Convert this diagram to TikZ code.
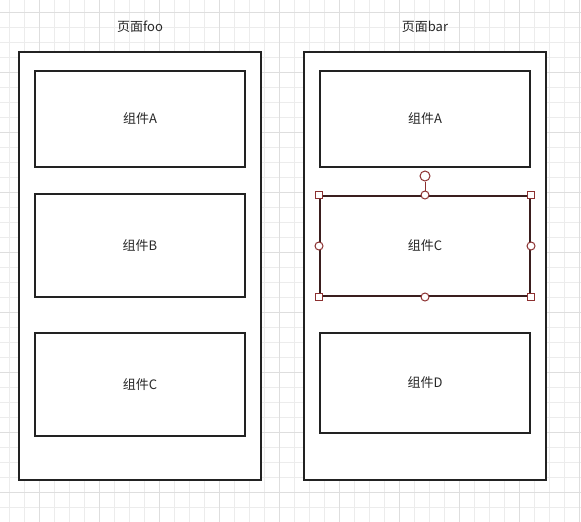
\documentclass[tikz,border=0pt]{standalone}
\usepackage{fontspec}
\setmainfont{Noto Sans CJK SC}
\usepackage{tikz}
\usetikzlibrary{shapes.geometric, arrows}
\definecolor{gridminor}{RGB}{236,236,236}
\definecolor{gridmajor}{RGB}{222,222,222}
\definecolor{linegray}{RGB}{34,34,34}
\definecolor{textgray}{RGB}{40,40,40}
\definecolor{selred}{RGB}{140,48,48}
\definecolor{selline}{RGB}{58,30,30}
\tikzstyle{page} = [rectangle, draw=linegray, line width=2pt, fill=white, minimum width=242pt, minimum height=428pt, inner sep=0pt]
\tikzstyle{comp} = [rectangle, draw=linegray, line width=2pt, fill=white, minimum width=210pt, inner sep=0pt, text=textgray, font=\fontsize{13}{15}\selectfont]
\tikzstyle{title} = [text=textgray, font=\fontsize{13}{15}\selectfont]
\tikzstyle{grip} = [rectangle, draw=selred, fill=white, line width=1pt, minimum size=7pt, inner sep=0pt]
\tikzstyle{knob} = [circle, draw=selred, fill=white, line width=1pt, minimum size=8pt, inner sep=0pt]

\begin{document}
\begin{tikzpicture}[x=1pt, y=-1pt]
    \useasboundingbox[fill=white] (0,0) rectangle (581,522);

      % Grid
      \foreach \gx in {9.5,24.5,...,579.5}
        \draw[gridminor, line width=1pt] (\gx,0) -- (\gx,522);
      \foreach \gy in {12.5,27.5,...,507.5}
        \draw[gridminor, line width=1pt] (0,\gy) -- (581,\gy);
      \foreach \gx in {39.5,99.5,...,579.5}
        \draw[gridmajor, line width=1pt] (\gx,0) -- (\gx,522);
      \foreach \gy in {12.5,72.5,...,492.5}
        \draw[gridmajor, line width=1pt] (0,\gy) -- (581,\gy);

      % Pages
      \node[title] (tfoo) at (140,27) {页面foo};
      \node[title] (tbar) at (425,27) {页面bar};
      \node[page] (foo) at (140,266) {};
      \node[page] (bar) at (425,266) {};

      % Components of foo
      \node[comp, minimum height=96pt] (fA) at (140,119) {组件A};
      \node[comp, minimum height=103pt] (fB) at (140,245.5) {组件B};
      \node[comp, minimum height=103pt] (fC) at (140,384.5) {组件C};

      % Components of bar
      \node[comp, minimum height=96pt] (bA) at (425,119) {组件A};
      \node[comp, draw=selline, minimum height=100pt] (bC) at (425,246) {组件C};
      \node[comp, minimum height=100pt] (bD) at (425,383) {组件D};

      % Selection handles
      \node[grip] (hNW) at (bC.north west) {};
      \node[grip] (hNE) at (bC.north east) {};
      \node[grip] (hSW) at (bC.south west) {};
      \node[grip] (hSE) at (bC.south east) {};
      \node[knob] (hN) at (bC.north) {};
      \node[knob] (hS) at (bC.south) {};
      \node[knob] (hW) at (bC.west) {};
      \node[knob] (hE) at (bC.east) {};
      \node[knob, minimum size=10pt] (rot) at (425,176) {};

      %Edges
      \draw[selred, line width=1pt] (rot) -- (hN);

  \end{tikzpicture}
\end{document}
